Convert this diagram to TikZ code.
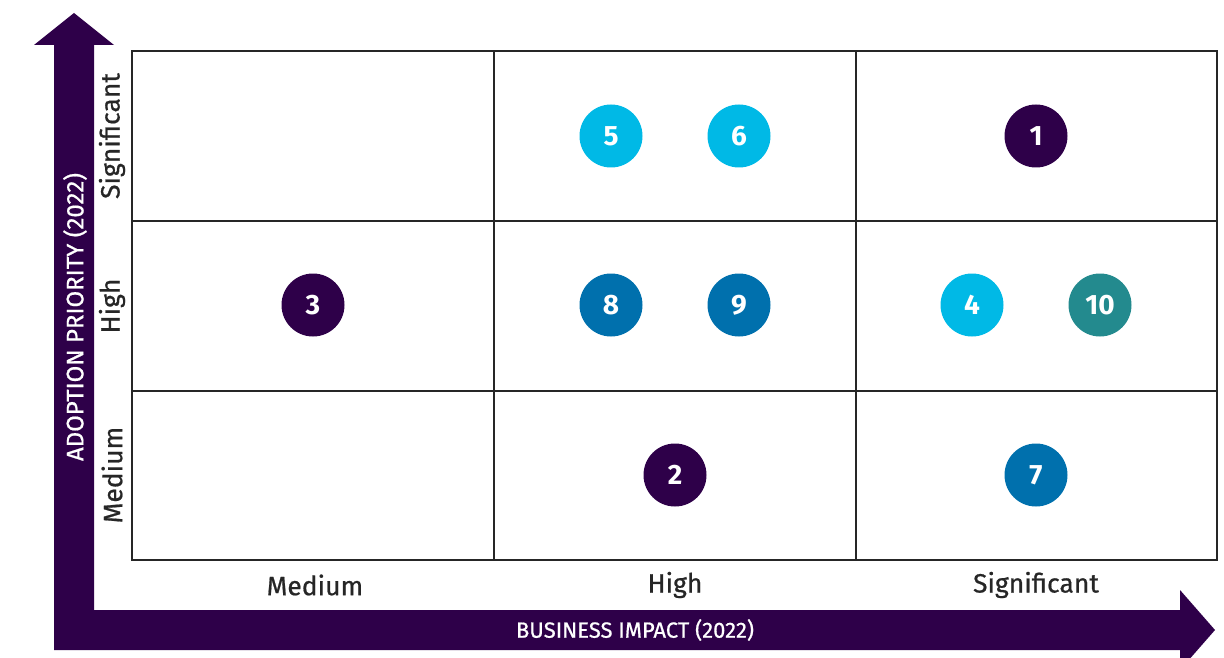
\documentclass[tikz,border=0pt]{standalone}
\usepackage{fontspec}
\setmainfont{Fira Sans}
\newfontfamily\medfont{Fira Sans}[FakeBold=0.7]
\usepackage{tikz}

\definecolor{axispurple}{RGB}{46,0,73}
\definecolor{skyblue}{RGB}{0,185,230}
\definecolor{oceanblue}{RGB}{0,112,173}
\definecolor{tealgreen}{RGB}{35,138,142}

\tikzset{
	dot/.style={shape=circle, minimum size=63pt, inner sep=0pt, text=white,
		font=\fontsize{28}{28}\selectfont\bfseries},
	level/.style={text=black!85, font=\medfont\fontsize{26.5}{26.5}\selectfont},
	axislabel/.style={text=white, font=\medfont\fontsize{22}{22}\selectfont}
}

\begin{document}
\begin{tikzpicture}[x=1pt, y=-1pt]
	\useasboundingbox (0,0) rectangle (1224,658);

	% axes
	\fill[axispurple] (54,650) -- (54,45) -- (34,45) -- (74,13) -- (114,45) -- (94,45)
		-- (94,610) -- (1180,610) -- (1180,590) -- (1215,630) -- (1180,670) -- (1180,650) -- cycle;
	\node[axislabel, rotate=90, font=\medfont\fontsize{24}{24}\selectfont] (yaxis) at (75,317) {ADOPTION PRIORITY (2022)};
	\node[axislabel] (xaxis) at (635,630) {BUSINESS IMPACT (2022)};

	% grid
	\draw[line width=1.3pt, black!85] (132,51) rectangle (1217,560);
	\draw[line width=1.3pt, black!85] (494,51) -- (494,560);
	\draw[line width=1.3pt, black!85] (856,51) -- (856,560);
	\draw[line width=1.3pt, black!85] (132,221) -- (1217,221);
	\draw[line width=1.3pt, black!85] (132,391) -- (1217,391);

	% levels
	\node[level, rotate=90] (rowsig) at (112,136) {Significant};
	\node[level, rotate=90] (rowhigh) at (112,306) {High};
	\node[level, rotate=90] (rowmed) at (112,475) {Medium};
	\node[level] (colmed) at (315,585) {Medium};
	\node[level] (colhigh) at (675,585) {High};
	\node[level] (colsig) at (1036,585) {Significant};

	% initiatives
	\node[dot, fill=axispurple] (c1) at (1036,136) {1};
	\node[dot, fill=axispurple] (c2) at (675,475)  {2};
	\node[dot, fill=axispurple] (c3) at (313,305)  {3};
	\node[dot, fill=skyblue]    (c4) at (972,305)  {4};
	\node[dot, fill=skyblue]    (c5) at (611,136)  {5};
	\node[dot, fill=skyblue]    (c6) at (739,136)  {6};
	\node[dot, fill=oceanblue]  (c7) at (1036,475) {7};
	\node[dot, fill=oceanblue]  (c8) at (611,305)  {8};
	\node[dot, fill=oceanblue]  (c9) at (739,305)  {9};
	\node[dot, fill=tealgreen]  (c10) at (1100,305) {10};
\end{tikzpicture}
\end{document}
